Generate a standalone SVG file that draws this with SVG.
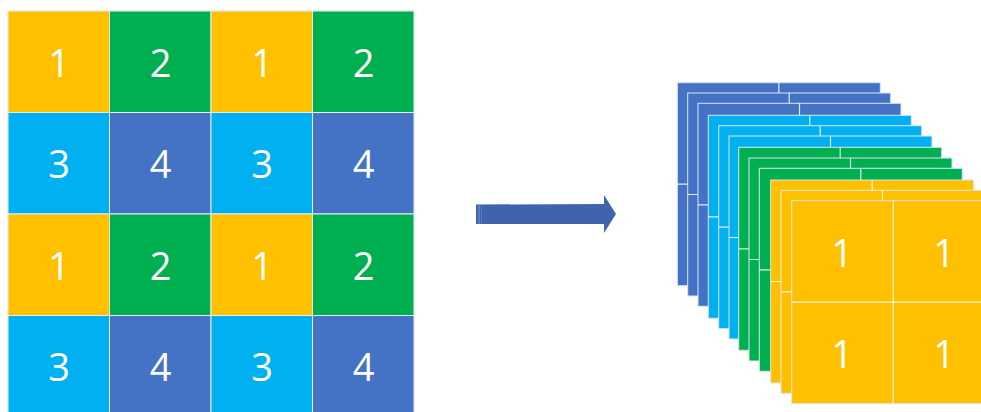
<svg xmlns="http://www.w3.org/2000/svg" width="981" height="412" viewBox="0 0 981 412">
  <style>
    .y { fill: #FFC000; }
    .g { fill: #00B050; }
    .c { fill: #00B0F0; }
    .b { fill: #4472C4; }
    .cell { stroke: #E8EEF6; stroke-width: 1; }
    .num { font-family: "Open Sans", "Liberation Sans", sans-serif; font-size: 38px; fill: #FFFFFF; text-anchor: middle; dominant-baseline: central; }
    .layer rect { stroke: #DCE6F2; stroke-width: 1; }
    .div { stroke: #FFFFFF; stroke-width: 1.2; opacity: 0.85; }
  </style>
  <defs>
    <!-- one 2x2 feature map, 203 px square, origin at its top-left -->
    <g id="mapLines">
      <line class="div" x1="101.5" y1="0" x2="101.5" y2="203"/>
      <line class="div" x1="0" y1="101.5" x2="203" y2="101.5"/>
    </g>
  </defs>

  <!-- 4x4 input grid -->
  <g id="grid">
    <rect x="8" y="11" width="406" height="406" fill="none" stroke="#D9D9D9" stroke-width="1"/>
    <g id="r0">
      <rect class="cell y" x="8" y="11" width="101.5" height="101.5"/>
      <rect class="cell g" x="109.5" y="11" width="101.5" height="101.5"/>
      <rect class="cell y" x="211" y="11" width="101.5" height="101.5"/>
      <rect class="cell g" x="312.5" y="11" width="101.5" height="101.5"/>
      <text class="num" x="59" y="61.5">1</text>
      <text class="num" x="160.5" y="61.5">2</text>
      <text class="num" x="262" y="61.5">1</text>
      <text class="num" x="363.5" y="61.5">2</text>
    </g>
    <g id="r1">
      <rect class="cell c" x="8" y="112.5" width="101.5" height="101.5"/>
      <rect class="cell b" x="109.5" y="112.5" width="101.5" height="101.5"/>
      <rect class="cell c" x="211" y="112.5" width="101.5" height="101.5"/>
      <rect class="cell b" x="312.5" y="112.5" width="101.5" height="101.5"/>
      <text class="num" x="59" y="163">3</text>
      <text class="num" x="160.5" y="163">4</text>
      <text class="num" x="262" y="163">3</text>
      <text class="num" x="363.5" y="163">4</text>
    </g>
    <g id="r2">
      <rect class="cell y" x="8" y="214" width="101.5" height="101.5"/>
      <rect class="cell g" x="109.5" y="214" width="101.5" height="101.5"/>
      <rect class="cell y" x="211" y="214" width="101.5" height="101.5"/>
      <rect class="cell g" x="312.5" y="214" width="101.5" height="101.5"/>
      <text class="num" x="59" y="264.5">1</text>
      <text class="num" x="160.5" y="264.5">2</text>
      <text class="num" x="262" y="264.5">1</text>
      <text class="num" x="363.5" y="264.5">2</text>
    </g>
    <g id="r3">
      <rect class="cell c" x="8" y="315.5" width="101.5" height="101.5"/>
      <rect class="cell b" x="109.5" y="315.5" width="101.5" height="101.5"/>
      <rect class="cell c" x="211" y="315.5" width="101.5" height="101.5"/>
      <rect class="cell b" x="312.5" y="315.5" width="101.5" height="101.5"/>
      <text class="num" x="59" y="366">3</text>
      <text class="num" x="160.5" y="366">4</text>
      <text class="num" x="262" y="366">3</text>
      <text class="num" x="363.5" y="366">4</text>
    </g>
  </g>

  <!-- transformation arrow -->
  <g id="connectors">
    <path d="M476,204.5 L604,204 L604,195 L616,214 L604,233 L604,224 L476,224 Z" fill="#3F64AD"/>
    <rect x="478.5" y="204.5" width="1.2" height="19.5" fill="#6F8CC6"/>
    <rect x="481" y="204.5" width="1" height="19.5" fill="#5878B8"/>
  </g>

  <!-- stack of 2x2 output maps, back to front -->
  <g id="stack">
    <g id="L1" class="layer" transform="translate(677.3,82.7)"><rect class="b" width="203" height="203"/><use href="#mapLines"/></g>
    <g id="L2" class="layer" transform="translate(687.7,93)"><rect class="b" width="203" height="203"/><use href="#mapLines"/></g>
    <g id="L3" class="layer" transform="translate(698,103.3)"><rect class="b" width="203" height="203"/><use href="#mapLines"/></g>
    <g id="L4" class="layer" transform="translate(708.3,115.3)"><rect class="c" width="203" height="203"/><use href="#mapLines"/></g>
    <g id="L5" class="layer" transform="translate(718.7,125.7)"><rect class="c" width="203" height="203"/><use href="#mapLines"/></g>
    <g id="L6" class="layer" transform="translate(729,136)"><rect class="c" width="203" height="203"/><use href="#mapLines"/></g>
    <g id="L7" class="layer" transform="translate(738.7,147.3)"><rect class="g" width="203" height="203"/><use href="#mapLines"/></g>
    <g id="L8" class="layer" transform="translate(749,158)"><rect class="g" width="203" height="203"/><use href="#mapLines"/></g>
    <g id="L9" class="layer" transform="translate(759.3,168.3)"><rect class="g" width="203" height="203"/><use href="#mapLines"/></g>
    <g id="L10" class="layer" transform="translate(770.7,180)"><rect class="y" width="203" height="203"/><use href="#mapLines"/></g>
    <g id="L11" class="layer" transform="translate(781,190.3)"><rect class="y" width="203" height="203"/><use href="#mapLines"/></g>
    <g id="L12" class="layer" transform="translate(791.7,200.7)">
      <rect class="y" width="203" height="203"/>
      <use href="#mapLines"/>
      <text class="num" x="50.5" y="51">1</text>
      <text class="num" x="152.5" y="51">1</text>
      <text class="num" x="50.5" y="152">1</text>
      <text class="num" x="152.5" y="152">1</text>
    </g>
  </g>
</svg>
